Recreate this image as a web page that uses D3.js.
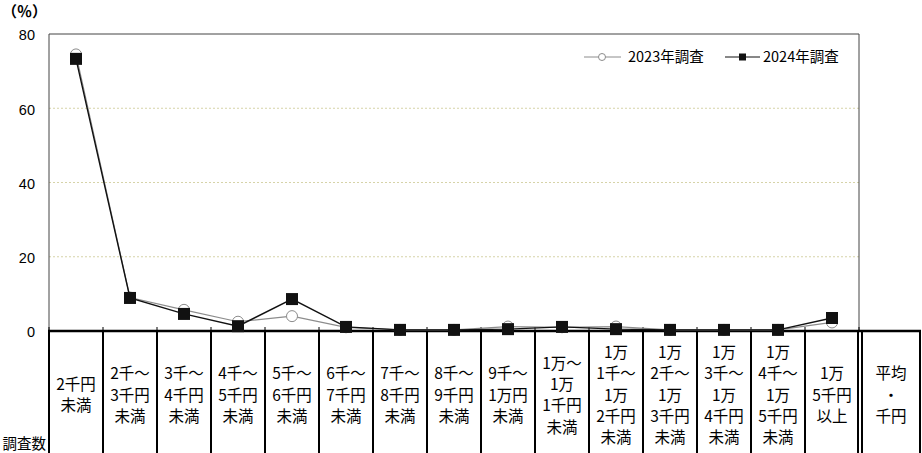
<!DOCTYPE html>
<html>
<head>
<meta charset="utf-8">
<script src="https://cdn.jsdelivr.net/npm/d3@7"></script>
<style>
  body { margin: 0; background: #fff; }
  text { font-family: "Noto Sans CJK JP", "Noto Sans", sans-serif; fill: #000; }
</style>
</head>
<body>
<div class="canvas"></div>
<script>
// categories (line breaks as in the table)
const categories = [
    '2千円\n未満', '2千～\n3千円\n未満', '3千～\n4千円\n未満', '4千～\n5千円\n未満',
    '5千～\n6千円\n未満', '6千～\n7千円\n未満', '7千～\n8千円\n未満', '8千～\n9千円\n未満',
    '9千～\n1万円\n未満', '1万～\n1万\n1千円\n未満', '1万\n1千～\n1万\n2千円\n未満',
    '1万\n2千～\n1万\n3千円\n未満', '1万\n3千～\n1万\n4千円\n未満', '1万\n4千～\n1万\n5千円\n未満',
    '1万\n5千円\n以上'
];
const extraColumn = '平均\n・\n千円';
const rowLabel = '調査数';

const series2023 = [74.5, 9.0, 5.7, 2.5, 4.0, 1.0, 0.3, 0.3, 1.2, 1.0, 1.2, 0.3, 0.3, 0.3, 2.3];
const series2024 = [73.3, 8.9, 4.6, 1.3, 8.6, 1.1, 0.3, 0.3, 0.5, 1.1, 0.5, 0.3, 0.3, 0.3, 3.5];
const yTicks = [0, 20, 40, 60, 80];
const seriesNames = ['2023年調査', '2024年調査'];

const width = 922, height = 453;

const svg = d3.select('.canvas')
    .append('svg')
    .attr('width', width)
    .attr('height', height);

const plot = { left: 49, right: 859, top: 34, bottom: 331 };

const x = d3.scaleBand()
    .domain(categories)
    .range([plot.left, plot.right]);

const y = d3.scaleLinear()
    .domain([0, 80])
    .range([plot.bottom, plot.top]);

// grid lines
svg.append('g')
    .selectAll('line')
    .data(yTicks.filter(d => d > 0 && d < 80))
    .enter().append('line')
    .attr('x1', plot.left).attr('x2', plot.right)
    .attr('y1', d => y(d)).attr('y2', d => y(d))
    .attr('stroke', '#d6d3a8')
    .attr('stroke-dasharray', '2,2');

// plot frame (top, left, right)
svg.append('path')
    .attr('d', `M${plot.left},${plot.bottom}V${plot.top}H${plot.right}V${plot.bottom}`)
    .attr('fill', 'none')
    .attr('stroke', '#444')
    .attr('stroke-width', 1);

// y axis
const yAxis = d3.axisLeft(y).tickValues(yTicks).tickSize(0).tickPadding(14);
const yAxisGroup = svg.append('g')
    .attr('transform', `translate(${plot.left},0)`)
    .call(yAxis);
yAxisGroup.select('.domain').remove();
yAxisGroup.selectAll('text')
    .style('font-family', '"Liberation Sans", Arial, sans-serif')
    .style('font-size', '14.5px')
    .attr('dy', '0.4em');

svg.append('text')
    .attr('x', 2).attr('y', 17)
    .style('font-size', '15px')
    .style('font-weight', 'bold')
    .text('（％）');

// small ticks on category boundaries above the zero line
const bounds = categories.map(c => x(c)).concat([plot.right]);
svg.append('g')
    .selectAll('line')
    .data(bounds)
    .enter().append('line')
    .attr('x1', d => d).attr('x2', d => d)
    .attr('y1', plot.bottom - 4).attr('y2', plot.bottom)
    .attr('stroke', '#000');

// table under the chart
const tableRight = 920, extraLeft = 862;
const table = svg.append('g');
const vLines = bounds.slice(0, -1).concat([plot.right - 1, extraLeft, tableRight]);
table.selectAll('line.v')
    .data(vLines)
    .enter().append('line')
    .attr('class', 'v')
    .attr('x1', d => d).attr('x2', d => d)
    .attr('y1', plot.bottom).attr('y2', height)
    .attr('stroke', '#000')
    .attr('stroke-width', 2);

table.append('line')
    .attr('x1', plot.left - 1).attr('x2', tableRight + 1)
    .attr('y1', plot.bottom).attr('y2', plot.bottom)
    .attr('stroke', '#000')
    .attr('stroke-width', 2.5);

const lineH = 21.3, midY = 395;
function cellText(str, cx) {
    const lines = str.split('\n');
    const t = table.append('text')
        .attr('text-anchor', 'middle')
        .style('font-size', '15.5px');
    lines.forEach((ln, i) => {
        t.append('tspan')
            .attr('x', cx)
            .attr('y', midY + (i - (lines.length - 1) / 2) * lineH)
            .attr('dy', '0.36em')
            .text(ln);
    });
}
categories.forEach(c => cellText(c, x(c) + x.bandwidth() / 2));
cellText(extraColumn, (extraLeft + tableRight) / 2);

table.append('text')
    .attr('x', 46).attr('y', 444)
    .attr('text-anchor', 'end')
    .attr('dy', '0.36em')
    .style('font-size', '14.5px')
    .text(rowLabel);

// series lines and markers
const cx = d => x(d) + x.bandwidth() / 2;
const line = d3.line().x(d => cx(d.c)).y(d => y(d.v));
const pts2023 = categories.map((c, i) => ({ c, v: series2023[i] }));
const pts2024 = categories.map((c, i) => ({ c, v: series2024[i] }));

svg.append('path')
    .datum(pts2023)
    .attr('d', line)
    .attr('fill', 'none')
    .attr('stroke', '#8c8c8c')
    .attr('stroke-width', 1.2);

svg.append('g')
    .selectAll('circle')
    .data(pts2023)
    .enter().append('circle')
    .attr('cx', d => cx(d.c))
    .attr('cy', d => y(d.v))
    .attr('r', 5.5)
    .attr('fill', '#fff')
    .attr('stroke', '#8c8c8c');

svg.append('path')
    .datum(pts2024)
    .attr('d', line)
    .attr('fill', 'none')
    .attr('stroke', '#111')
    .attr('stroke-width', 1.4);

svg.append('g')
    .selectAll('rect')
    .data(pts2024)
    .enter().append('rect')
    .attr('x', d => cx(d.c) - 6)
    .attr('y', d => y(d.v) - 6)
    .attr('width', 12)
    .attr('height', 12)
    .attr('fill', '#111');

// legend
const legend = svg.append('g').attr('transform', 'translate(0,57)');
legend.append('line').attr('x1', 584).attr('x2', 621).attr('y1', 0).attr('y2', 0)
    .attr('stroke', '#8c8c8c');
legend.append('circle').attr('cx', 602).attr('cy', 0).attr('r', 3.5)
    .attr('fill', '#fff').attr('stroke', '#8c8c8c');
legend.append('text').attr('x', 628).attr('y', 0).attr('dy', '0.36em')
    .style('font-size', '14.5px').text(seriesNames[0]);
legend.append('line').attr('x1', 725).attr('x2', 760).attr('y1', 0).attr('y2', 0)
    .attr('stroke', '#111');
legend.append('rect').attr('x', 739).attr('y', -3.5).attr('width', 7).attr('height', 7)
    .attr('fill', '#111');
legend.append('text').attr('x', 763).attr('y', 0).attr('dy', '0.36em')
    .style('font-size', '14.5px').text(seriesNames[1]);
</script>
</body>
</html>
